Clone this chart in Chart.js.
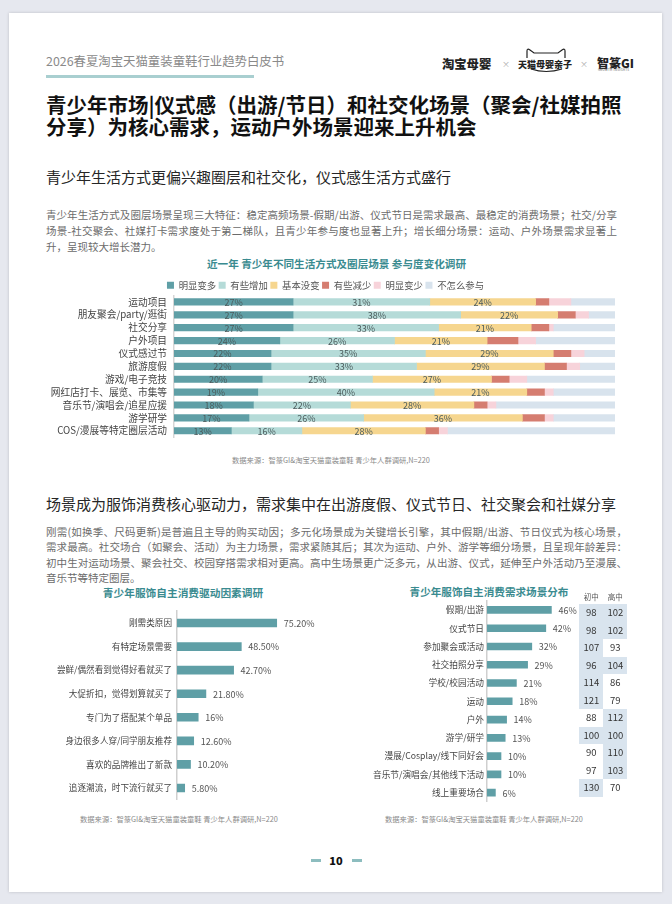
<!DOCTYPE html>
<html><head><meta charset="utf-8">
<script src="https://cdn.jsdelivr.net/npm/chart.js@4.4.1/dist/chart.umd.min.js"></script>
<style>
html,body{margin:0;padding:0;}
body{width:672px;height:904px;background:#e6e8ef;position:relative;overflow:hidden;font-family:"Noto Sans CJK SC","Noto Sans",sans-serif;}
.page{position:absolute;left:9px;top:13px;width:653px;height:879px;background:#fff;box-shadow:0 0 3px rgba(0,0,0,0.18);}
.t{position:absolute;white-space:nowrap;}
.jl{position:absolute;white-space:nowrap;font-size:10.5px;color:#6b6b6b;line-height:16px;height:16px;}
.ct{position:absolute;white-space:nowrap;color:#3a8b90;font-weight:700;transform:translateX(-50%);line-height:14px;}
.src{position:absolute;white-space:nowrap;color:#8a8a8a;font-size:7.3px;line-height:10px;}
canvas{position:absolute;}
.cell{position:absolute;width:24px;height:17.5px;line-height:17.5px;text-align:center;font-size:9.5px;color:#333;}
</style></head>
<body>
<div class="page"></div>

<div class="t" style="left:46px;top:53px;font-size:12.4px;line-height:16px;color:#8a8a8a;">2026春夏淘宝天猫童装童鞋行业趋势白皮书</div>
<div style="position:absolute;left:46px;top:75px;width:208px;height:3px;background:#a9cfd0;"></div>

<div class="t" style="left:442px;top:56px;font-size:12.3px;line-height:16px;font-weight:900;color:#222;">淘宝母婴</div>
<div class="t" style="left:502px;top:58px;font-size:8px;line-height:12px;color:#aaa;">×</div>
<svg style="position:absolute;left:520px;top:45px;" width="52" height="30" viewBox="0 0 52 30">
<path d="M7,13 L7,6 Q7,3 10,5 L14,8 L38,8 L42,5 Q45,3 45,6 L45,13" fill="none" stroke="#222" stroke-width="1.2"/>
<path d="M11,24 Q26,29 42,24" fill="none" stroke="#222" stroke-width="1.2"/>
</svg>
<div class="t" style="left:518px;top:59px;font-size:9px;line-height:12px;font-weight:900;color:#222;">天猫母婴亲子</div>
<div class="t" style="left:580px;top:58px;font-size:8px;line-height:12px;color:#aaa;">×</div>
<div class="t" style="left:597px;top:55px;font-size:12px;line-height:15px;font-weight:900;color:#222;">智篆GI</div>
<div class="t" style="left:598px;top:68px;font-size:3px;line-height:4px;color:#555;letter-spacing:0.3px;">GROWTH INSIGHTS</div>

<div class="t" style="left:46px;top:94px;font-size:20.5px;line-height:21.5px;font-weight:700;color:#111;">青少年市场|仪式感（出游/节日）和社交化场景（聚会/社媒拍照<br>分享）为核心需求，运动户外场景迎来上升机会</div>

<div class="t" style="left:46px;top:167px;font-size:15px;line-height:20px;color:#262626;">青少年生活方式更偏兴趣圈层和社交化，仪式感生活方式盛行</div>

<div class="jl" data-w="571" style="left:46px;top:207px;">青少年生活方式及圈层场景呈现三大特征：稳定高频场景-假期/出游、仪式节日是需求最高、最稳定的消费场景；社交/分享</div>
<div class="jl" data-w="571" style="left:46px;top:223px;">场景-社交聚会、社媒打卡需求度处于第二梯队，且青少年参与度也显著上升；增长细分场景：运动、户外场景需求显著上</div>
<div class="jl" style="left:46px;top:239px;">升，呈现较大增长潜力。</div>

<div class="ct" style="left:336.5px;top:257px;font-size:10.6px;">近一年 青少年不同生活方式及圈层场景 参与度变化调研</div>
<canvas id="c1" width="600" height="180" style="left:36px;top:270px;"></canvas>
<div class="src" style="left:232px;top:455px;">数据来源：智篆GI&amp;淘宝天猫童装童鞋 青少年人群调研,N=220</div>

<div class="t" style="left:46px;top:494px;font-size:15px;line-height:20px;color:#262626;">场景成为服饰消费核心驱动力，需求集中在出游度假、仪式节日、社交聚会和社媒分享</div>

<div class="jl" data-w="581" style="left:46px;top:523.7px;">刚需(如换季、尺码更新)是普遍且主导的购买动因；多元化场景成为关键增长引擎，其中假期/出游、节日仪式为核心场景，</div>
<div class="jl" data-w="581" style="left:46px;top:539.2px;">需求最高。社交场合（如聚会、活动）为主力场景，需求紧随其后；其次为运动、户外、游学等细分场景，且呈现年龄差异：</div>
<div class="jl" data-w="581" style="left:46px;top:554.7px;">初中生对运动场景、聚会社交、校园穿搭需求相对更高。高中生场景更广泛多元，从出游、仪式，延伸至户外活动乃至漫展、</div>
<div class="jl" style="left:46px;top:570.2px;">音乐节等特定圈层。</div>

<div class="ct" style="left:183px;top:586px;font-size:10.7px;">青少年服饰自主消费驱动因素调研</div>
<div class="ct" style="left:489px;top:585px;font-size:10.6px;">青少年服饰自主消费需求场景分布</div>

<canvas id="c2" width="300" height="210" style="left:36px;top:600px;"></canvas>
<canvas id="c3" width="300" height="220" style="left:336px;top:590px;"></canvas>
<div id="tgi"></div>

<div class="src" style="left:80px;top:814px;">数据来源：智篆GI&amp;淘宝天猫童装童鞋 青少年人群调研,N=220</div>
<div class="src" style="left:385px;top:814px;">数据来源：智篆GI&amp;淘宝天猫童装童鞋 青少年人群调研,N=220</div>

<div style="position:absolute;left:311px;top:859px;width:10px;height:2.5px;background:#8dbdbf;"></div>
<div class="t" style="left:326px;top:853px;width:20px;text-align:center;font-size:11px;line-height:15px;font-weight:900;color:#111;">10</div>
<div style="position:absolute;left:352px;top:859px;width:10px;height:2.5px;background:#8dbdbf;"></div>

<script>
// ---------- data ----------
const lifeCats = ['运动项目','朋友聚会/party/逛街','社交分享','户外项目','仪式感过节','旅游度假','游戏/电子竞技','网红店打卡、展览、市集等','音乐节/演唱会/追星应援','游学研学','COS/漫展等特定圈层活动'];
const lifeSeries = ['明显变多','有些增加','基本没变','有些减少','明显变少','不怎么参与'];
const muchMore    = [27,27,27,24,22,22,20,19,18,17,13];
const someMore    = [31,38,33,26,35,33,25,40,22,26,16];
const noChange    = [24,22,21,21,29,29,27,21,28,36,28];
const someLess    = [3,4,4,7,4,5,4,4,3,5,3];
const muchLess    = [5,3,1,4,3,3,4,2,2,2,2];
const notInvolved = [10,6,14,18,7,8,20,14,27,14,38];

const driverCats = ['刚需类原因','有特定场景需要','尝鲜/偶然看到觉得好看就买了','大促折扣，觉得划算就买了','专门为了搭配某个单品','身边很多人穿/同学朋友推荐','喜欢的品牌推出了新款','追逐潮流，时下流行就买了'];
const driverValues = [75.2,48.5,42.7,21.8,16,12.6,10.2,5.8];

const sceneCats = ['假期/出游','仪式节日','参加聚会或活动','社交拍照分享','学校/校园活动','运动','户外','游学/研学','漫展/Cosplay/线下同好会','音乐节/演唱会/其他线下活动','线上重要场合'];
const sceneValues = [46,42,32,29,21,18,14,13,10,10,6];
const tgiHeaders = ['初中','高中'];
const juniorTGI = [98,98,107,96,114,121,88,100,90,97,130];
const seniorTGI = [102,102,93,104,86,79,112,100,110,103,70];
const juniorMark = [1,1,1,1,1,1,0,1,0,0,1];
const seniorMark = [1,1,0,1,0,0,1,1,1,1,0];

// ---------- justify paragraph lines ----------
document.querySelectorAll('.jl[data-w]').forEach(el=>{
  const target = +el.dataset.w;
  const n = el.textContent.length;
  const w = el.getBoundingClientRect().width;
  el.style.letterSpacing = ((target - w) / (n - 1)) + 'px';
});

// ---------- TGI table ----------
(function(){
  const box = document.getElementById('tgi');
  const colX = [579.3, 603.3];
  tgiHeaders.forEach((h,i)=>{
    const d = document.createElement('div');
    d.className = 't';
    d.style.cssText = `left:${colX[i]}px;top:592px;width:24px;text-align:center;font-size:7.5px;line-height:10px;color:#555;`;
    d.textContent = h; box.appendChild(d);
  });
  const cols = [[juniorTGI, juniorMark],[seniorTGI, seniorMark]];
  cols.forEach(([vals, marks], c)=>{
    vals.forEach((v,r)=>{
      const d = document.createElement('div');
      d.className = 'cell';
      d.style.left = colX[c] + 'px';
      d.style.top = (604 + r*17.5) + 'px';
      if (marks[r]) d.style.background = '#d9e4ee';
      d.textContent = v; box.appendChild(d);
    });
  });
})();

// ---------- charts ----------
Chart.defaults.font.family = '"Noto Sans CJK SC","Noto Sans",sans-serif';
Chart.defaults.color = '#444';

const colors = ['#5f9fa6','#b5dbd8','#f6d68f','#d57d70','#f7d3da','#d8e3ed'];
const seriesData = [muchMore, someMore, noChange, someLess, muchLess, notInvolved];

const legendFit = {id:'legendFit', beforeLayout(chart){
  const lg = chart.legend;
  if (lg && !lg._p){ const f = lg.fit; lg.fit = function(){ f.call(this); this.height = 17.5; }; lg._p = true; }
}};

const segLabels = {id:'segLabels', afterDatasetsDraw(chart){
  const ctx = chart.ctx;
  ctx.save();
  ctx.font = '9px "Noto Sans CJK SC", sans-serif';
  ctx.fillStyle = '#4b5b5c';
  ctx.textAlign = 'center'; ctx.textBaseline = 'middle';
  [0,1,2].forEach(di=>{
    const meta = chart.getDatasetMeta(di);
    meta.data.forEach((bar,i)=>{
      const v = chart.data.datasets[di].data[i];
      ctx.fillText(v + '%', (bar.x + bar.base)/2, bar.y + 0.5);
    });
  });
  ctx.restore();
}};

new Chart(document.getElementById('c1'), {
  type:'bar',
  data:{ labels: lifeCats, datasets: lifeSeries.map((s,i)=>({label:s, data:seriesData[i], backgroundColor:colors[i], barThickness:6.5, borderWidth:0})) },
  options:{
    responsive:false, animation:false, devicePixelRatio:1, indexAxis:'y',
    layout:{padding:{top:8,bottom:8.3,left:0,right:21}},
    plugins:{
      legend:{display:true, position:'top', labels:{boxWidth:7, boxHeight:7, padding:2.5, color:'#555', font:{size:9.4}}},
      tooltip:{enabled:false}
    },
    scales:{
      x:{stacked:true, min:0, max:100, display:false},
      y:{stacked:true, grid:{display:false, drawTicks:false}, border:{display:true, color:'#d6d6d6', width:1.5},
         ticks:{padding:7, autoSkip:false, color:'#444', font:{size:9.7}},
         afterFit(s){ s.width = 138; }}
    }
  },
  plugins:[legendFit, segLabels]
});

function endLabels(fmt){
  return {id:'endLabels', afterDatasetsDraw(chart){
    const ctx = chart.ctx; const meta = chart.getDatasetMeta(0);
    ctx.save();
    ctx.font = '9px "Noto Sans CJK SC", sans-serif';
    ctx.fillStyle = '#555'; ctx.textAlign = 'left'; ctx.textBaseline = 'middle';
    meta.data.forEach((bar,i)=>{ ctx.fillText(fmt(chart.data.datasets[0].data[i]), bar.x + 7, bar.y + 0.5); });
    ctx.restore();
  }};
}

new Chart(document.getElementById('c2'), {
  type:'bar',
  data:{ labels: driverCats, datasets:[{data: driverValues, backgroundColor:'#5f9fa6', barThickness:8, borderWidth:0}] },
  options:{
    responsive:false, animation:false, devicePixelRatio:1, indexAxis:'y',
    layout:{padding:{top:11.2,bottom:10.2,left:0,right:26.4}},
    plugins:{legend:{display:false}, tooltip:{enabled:false}},
    scales:{
      x:{min:0, max:100, display:false},
      y:{grid:{display:false, drawTicks:false}, border:{display:true, color:'#cfcfcf', width:1.5},
         ticks:{padding:5, autoSkip:false, color:'#444', font:{size:8.6}},
         afterFit(s){ s.width = 141; }}
    }
  },
  plugins:[endLabels(v => (Number.isInteger(v) ? v : v.toFixed(2)) + '%')]
});

new Chart(document.getElementById('c3'), {
  type:'bar',
  data:{ labels: sceneCats, datasets:[{data: sceneValues, backgroundColor:'#5f9fa6', barThickness:7, borderWidth:0}] },
  options:{
    responsive:false, animation:false, devicePixelRatio:1, indexAxis:'y',
    layout:{padding:{top:10.8,bottom:7.5,left:0,right:9}},
    plugins:{legend:{display:false}, tooltip:{enabled:false}},
    scales:{
      x:{min:0, max:100, display:false},
      y:{grid:{display:false, drawTicks:false}, border:{display:true, color:'#cfcfcf', width:1.5},
         ticks:{padding:3, autoSkip:false, color:'#444', font:{size:8.7}},
         afterFit(s){ s.width = 151; }}
    }
  },
  plugins:[endLabels(v => v + '%')]
});
</script>
</body></html>
